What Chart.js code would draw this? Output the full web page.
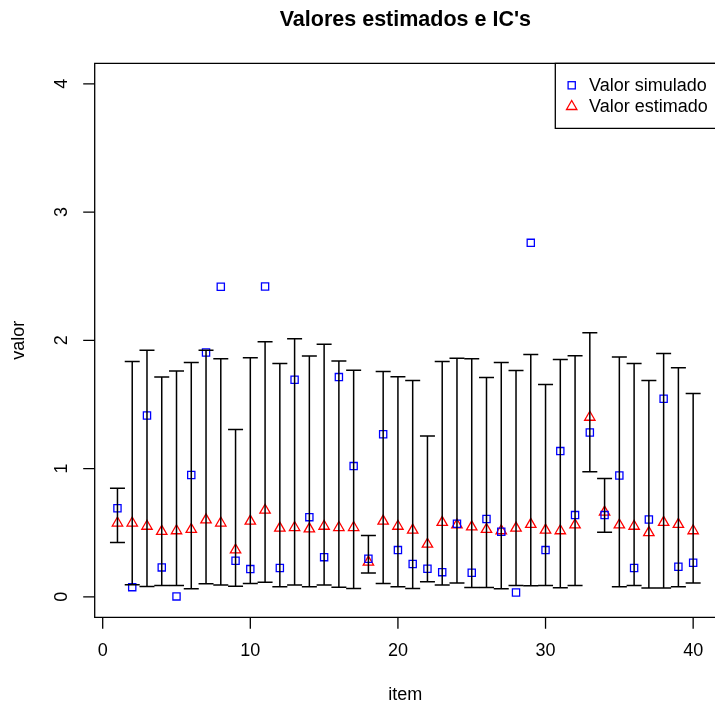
<!DOCTYPE html>
<html lang="pt-BR">
<head>
<meta charset="utf-8">
<title>Valores estimados e IC's</title>
<script src="https://cdn.jsdelivr.net/npm/chart.js@4.4.1/dist/chart.umd.min.js"></script>
<style>
    html, body { margin: 0; padding: 0; background: #fff; }
    #graficoIC { display: block; }
</style>
</head>
<body>
<canvas id="graficoIC" width="715" height="704"></canvas>
<script>
// ========== DADOS ==========

const itens = [1, 2, 3, 4, 5, 6, 7, 8, 9, 10,
               11, 12, 13, 14, 15, 16, 17, 18, 19, 20,
               21, 22, 23, 24, 25, 26, 27, 28, 29, 30,
               31, 32, 33, 34, 35, 36, 37, 38, 39, 40];

const valorSimulado = [0.690, 0.075, 1.414, 0.229, 0.003, 0.949, 1.905, 2.417, 0.281, 0.216,
                       2.420, 0.224, 1.692, 0.621, 0.309, 1.713, 1.019, 0.296, 1.268, 0.364,
                       0.255, 0.218, 0.192, 0.569, 0.187, 0.606, 0.507, 0.034, 2.760, 0.364,
                       1.136, 0.637, 1.281, 0.637, 0.946, 0.224, 0.603, 1.544, 0.234, 0.265];

const valorEstimado = [0.575, 0.575, 0.550, 0.510, 0.515, 0.525, 0.600, 0.575, 0.365, 0.590,
                       0.675, 0.535, 0.540, 0.530, 0.550, 0.540, 0.540, 0.270, 0.590, 0.550,
                       0.520, 0.410, 0.580, 0.560, 0.545, 0.525, 0.515, 0.535, 0.565, 0.520,
                       0.515, 0.560, 1.400, 0.660, 0.560, 0.550, 0.500, 0.580, 0.565, 0.515];

const icInferior = [0.424, 0.094, 0.081, 0.088, 0.088, 0.062, 0.101, 0.091, 0.083, 0.104,
                    0.114, 0.078, 0.091, 0.078, 0.091, 0.075, 0.065, 0.185, 0.104, 0.078,
                    0.065, 0.117, 0.091, 0.107, 0.073, 0.073, 0.062, 0.088, 0.086, 0.088,
                    0.070, 0.088, 0.975, 0.504, 0.078, 0.088, 0.068, 0.068, 0.078, 0.107];

const icSuperior = [0.847, 1.835, 1.923, 1.713, 1.760, 1.827, 1.923, 1.856, 1.305, 1.863,
                    1.988, 1.820, 2.012, 1.877, 1.970, 1.838, 1.767, 0.478, 1.757, 1.715,
                    1.687, 1.253, 1.835, 1.861, 1.856, 1.710, 1.827, 1.765, 1.889, 1.655,
                    1.851, 1.879, 2.058, 0.923, 1.869, 1.820, 1.687, 1.897, 1.786, 1.585];

const ticksX = [0, 10, 20, 30, 40];
const ticksY = [0, 1, 2, 3, 4];

const titulo = "Valores estimados e IC's";
const tituloX = "item";
const tituloY = "valor";
const legendas = ["Valor simulado", "Valor estimado"];

// ========== ESTILO (parecido com o R base) ==========

const FONTE = '"Liberation Sans", Arial, Helvetica, sans-serif';
const AZUL = "#0000ff";
const VERMELHO = "#ff0000";

// Plugin que desenha caixa, eixos, título, legenda e barras de erro
const estiloR = {
    id: "estiloR",
    afterDatasetsDraw(chart) {
        const ctx = chart.ctx;
        const area = chart.chartArea;
        const sx = chart.scales.x;
        const sy = chart.scales.y;
        const direita = chart.width + 5; // a caixa do R passa da borda da imagem

        ctx.save();

        // --- barras de erro (IC) ---
        ctx.strokeStyle = "#000";
        ctx.lineWidth = 1.5;
        const meiaLargura = 7.5;
        itens.forEach((it, i) => {
            const px = sx.getPixelForValue(it);
            const y1 = sy.getPixelForValue(icInferior[i]);
            const y2 = sy.getPixelForValue(icSuperior[i]);
            ctx.beginPath();
            ctx.moveTo(px, y1);
            ctx.lineTo(px, y2);
            ctx.moveTo(px - meiaLargura, y1);
            ctx.lineTo(px + meiaLargura, y1);
            ctx.moveTo(px - meiaLargura, y2);
            ctx.lineTo(px + meiaLargura, y2);
            ctx.stroke();
        });

        // --- caixa do gráfico ---
        ctx.lineWidth = 1.3;
        ctx.beginPath();
        ctx.moveTo(direita, area.top);
        ctx.lineTo(area.left, area.top);
        ctx.lineTo(area.left, area.bottom);
        ctx.lineTo(direita, area.bottom);
        ctx.stroke();

        // --- eixo X ---
        ctx.fillStyle = "#000";
        ctx.font = "18px " + FONTE;
        ctx.textAlign = "center";
        ctx.textBaseline = "middle";
        ctx.beginPath();
        ticksX.forEach(t => {
            const px = sx.getPixelForValue(t);
            ctx.moveTo(px, area.bottom);
            ctx.lineTo(px, area.bottom + 11.5);
        });
        ctx.stroke();
        ticksX.forEach(t => {
            ctx.fillText(String(t), sx.getPixelForValue(t), 651);
        });

        // --- eixo Y (rótulos girados como no R) ---
        ctx.beginPath();
        ticksY.forEach(t => {
            const py = sy.getPixelForValue(t);
            ctx.moveTo(area.left, py);
            ctx.lineTo(area.left - 11.5, py);
        });
        ctx.stroke();
        ticksY.forEach(t => {
            ctx.save();
            ctx.translate(62, sy.getPixelForValue(t));
            ctx.rotate(-Math.PI / 2);
            ctx.fillText(String(t), 0, 0);
            ctx.restore();
        });

        // --- títulos dos eixos ---
        ctx.fillText(tituloX, (area.left + 716) / 2, 695);
        ctx.save();
        ctx.translate(19, (area.top + area.bottom) / 2);
        ctx.rotate(-Math.PI / 2);
        ctx.fillText(tituloY, 0, 0);
        ctx.restore();

        // --- título principal ---
        ctx.font = "bold 21.5px " + FONTE;
        ctx.fillText(titulo, (area.left + 716) / 2, 20);

        // --- legenda ---
        ctx.lineWidth = 1.3;
        ctx.strokeStyle = "#000";
        ctx.beginPath();
        ctx.moveTo(direita, area.top);
        ctx.lineTo(555.3, area.top);
        ctx.lineTo(555.3, 128.3);
        ctx.lineTo(direita, 128.3);
        ctx.stroke();

        ctx.strokeStyle = AZUL;
        ctx.lineWidth = 1.3;
        ctx.strokeRect(571.7 - 3.6, 85.3 - 3.6, 7.2, 7.2);

        ctx.strokeStyle = VERMELHO;
        ctx.beginPath();
        const r = 6;
        ctx.moveTo(571.7, 106.5 - r);
        ctx.lineTo(571.7 + r * 0.866, 106.5 + r / 2);
        ctx.lineTo(571.7 - r * 0.866, 106.5 + r / 2);
        ctx.closePath();
        ctx.stroke();

        ctx.fillStyle = "#000";
        ctx.font = "18px " + FONTE;
        ctx.textAlign = "left";
        ctx.fillText(legendas[0], 589, 86);
        ctx.fillText(legendas[1], 589, 107);

        ctx.restore();
    }
};

// ========== GRÁFICO ==========

const ctx = document.getElementById("graficoIC").getContext("2d");
window.chartIC = new Chart(ctx, {
    type: "scatter",
    data: {
        datasets: [
            {
                label: legendas[0],
                data: itens.map((it, i) => ({ x: it, y: valorSimulado[i] })),
                pointStyle: "rect",
                pointRadius: 5.1,
                pointBorderWidth: 1.3,
                borderColor: AZUL,
                backgroundColor: "rgba(0,0,0,0)"
            },
            {
                label: legendas[1],
                data: itens.map((it, i) => ({ x: it, y: valorEstimado[i] })),
                pointStyle: "triangle",
                pointRadius: 6,
                pointBorderWidth: 1.3,
                borderColor: VERMELHO,
                backgroundColor: "rgba(0,0,0,0)"
            }
        ]
    },
    options: {
        responsive: false,
        devicePixelRatio: 1,
        animation: false,
        layout: {
            autoPadding: false,
            padding: { left: 94.7, top: 63.3, right: 0, bottom: 86.7 }
        },
        plugins: {
            legend: { display: false },
            title: { display: false },
            tooltip: { enabled: false }
        },
        scales: {
            x: { type: "linear", display: false, min: -0.542, max: 41.48 },
            y: { type: "linear", display: false, min: -0.16, max: 4.16 }
        }
    },
    plugins: [estiloR]
});
</script>
</body>
</html>
